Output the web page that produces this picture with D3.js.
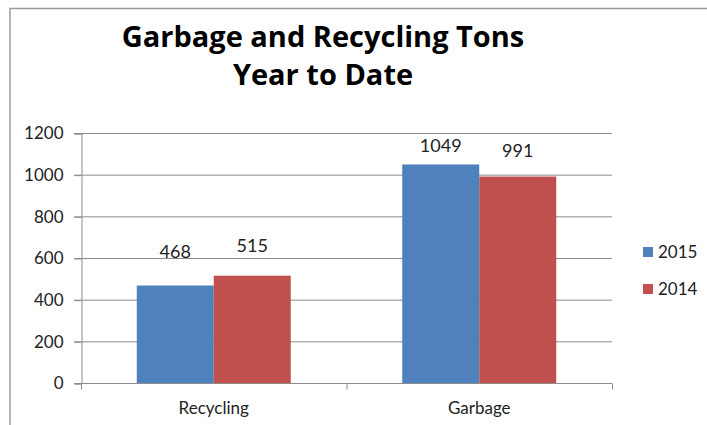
<!DOCTYPE html>
<html>
<head>
<meta charset="utf-8">
<script src="https://cdn.jsdelivr.net/npm/d3@7"></script>
<style>
  body { margin: 0; background: #fff; }
  svg { display: block; font-family: Lato, "Open Sans", sans-serif; }
</style>
</head>
<body>
<svg id="chart"></svg>
<script>
// Chart data
const categories = ["Recycling", "Garbage"];
const seriesNames = ["2015", "2014"];
const values2015 = [468, 1049];
const values2014 = [515, 991];
const yTicks = [0, 200, 400, 600, 800, 1000, 1200];
const titleLines = ["Garbage and Recycling Tons", "Year to Date"];

const colors = ["#4F81BD", "#C0504D"];
// gap (px) between each bar top and its value label, labels were placed by hand
const labelGap = [[28, 24], [12, 20]];

const width = 707;
const height = 425;
const plot = { left: 81, right: 612, top: 133, bottom: 383 };

const svg = d3.select("#chart")
    .attr("width", width)
    .attr("height", height);

// outer frame (top and left edges visible)
svg.append("path")
    .attr("d", `M10,${height} L10,8.5 L${width},8.5`)
    .attr("fill", "none")
    .attr("stroke", "#9a9a9a")
    .attr("stroke-width", 1.5);

// Title
svg.append("g")
    .selectAll("text")
    .data(titleLines)
    .join("text")
    .attr("x", 323)
    .attr("y", (d, i) => 47 + i * 38)
    .attr("text-anchor", "middle")
    .attr("font-family", "'Open Sans', sans-serif")
    .attr("font-size", 29)
    .attr("font-weight", "bold")
    .attr("fill", "#000")
    .text(d => d);

// Scales
const x0 = d3.scaleBand()
    .domain(categories)
    .range([plot.left, plot.right])
    .paddingInner(0.42)
    .paddingOuter(0.21);

const x1 = d3.scaleBand()
    .domain(seriesNames)
    .range([0, x0.bandwidth()]);

const y = d3.scaleLinear()
    .domain([0, 1200])
    .range([plot.bottom, plot.top]);

// Gridlines
svg.append("g")
    .selectAll("line")
    .data(yTicks)
    .join("line")
    .attr("x1", plot.left - 7)
    .attr("x2", plot.right)
    .attr("y1", d => y(d) + 0.5)
    .attr("y2", d => y(d) + 0.5)
    .attr("stroke", "#8c8c8c")
    .attr("stroke-width", 1);

// Y axis
const yAxis = d3.axisLeft(y)
    .tickValues(yTicks)
    .tickFormat(d3.format("d"))
    .tickSize(7)
    .tickPadding(11);

const gY = svg.append("g")
    .attr("transform", `translate(${plot.left + 0.5},0.5)`)
    .call(yAxis);
gY.select(".domain").attr("stroke", "#8c8c8c");
gY.selectAll(".tick line").attr("stroke", "#8c8c8c");
gY.selectAll(".tick text")
    .attr("font-family", "Lato, 'Open Sans', sans-serif")
    .attr("font-size", 17)
    .attr("fill", "#222");

// Bars
const rows = categories.map((c, i) => ({ cat: c, i, vals: [values2015[i], values2014[i]] }));

const groups = svg.append("g")
    .selectAll("g")
    .data(rows)
    .join("g")
    .attr("transform", d => `translate(${x0(d.cat)},0)`);

groups.selectAll("rect")
    .data(d => d.vals.map((v, j) => ({ name: seriesNames[j], value: v, j })))
    .join("rect")
    .attr("x", d => x1(d.name))
    .attr("y", d => y(d.value))
    .attr("width", x1.bandwidth())
    .attr("height", d => y(0) - y(d.value))
    .attr("fill", d => colors[d.j]);

groups.selectAll("text")
    .data(d => d.vals.map((v, j) => ({ name: seriesNames[j], value: v, gap: labelGap[d.i][j] })))
    .join("text")
    .attr("x", d => x1(d.name) + x1.bandwidth() / 2)
    .attr("y", d => y(d.value) - d.gap)
    .attr("text-anchor", "middle")
    .attr("font-size", 18)
    .attr("fill", "#222")
    .text(d => d.value);

// X axis
const gX = svg.append("g")
    .attr("transform", `translate(0,${plot.bottom + 0.5})`);
gX.append("line")
    .attr("x1", plot.left)
    .attr("x2", plot.right)
    .attr("stroke", "#8c8c8c");
const step = (plot.right - plot.left) / categories.length;
gX.selectAll("line.tick")
    .data(d3.range(categories.length + 1))
    .join("line")
    .attr("class", "tick")
    .attr("x1", d => plot.left + 0.5 + d * step)
    .attr("x2", d => plot.left + 0.5 + d * step)
    .attr("y1", 0)
    .attr("y2", 6)
    .attr("stroke", "#8c8c8c");
gX.selectAll("text")
    .data(categories)
    .join("text")
    .attr("x", d => x0(d) + x0.bandwidth() / 2)
    .attr("y", 30)
    .attr("text-anchor", "middle")
    .attr("font-size", 17)
    .attr("fill", "#222")
    .text(d => d);

// Legend
const legend = svg.append("g")
    .selectAll("g")
    .data(seriesNames)
    .join("g")
    .attr("transform", (d, i) => `translate(643,${252 + i * 37})`);
legend.append("rect")
    .attr("x", 0)
    .attr("y", -5)
    .attr("width", 10)
    .attr("height", 10)
    .attr("fill", (d, i) => colors[i]);
legend.append("text")
    .attr("x", 15)
    .attr("y", 6)
    .attr("font-size", 17)
    .attr("fill", "#222")
    .text(d => d);
</script>
</body>
</html>
